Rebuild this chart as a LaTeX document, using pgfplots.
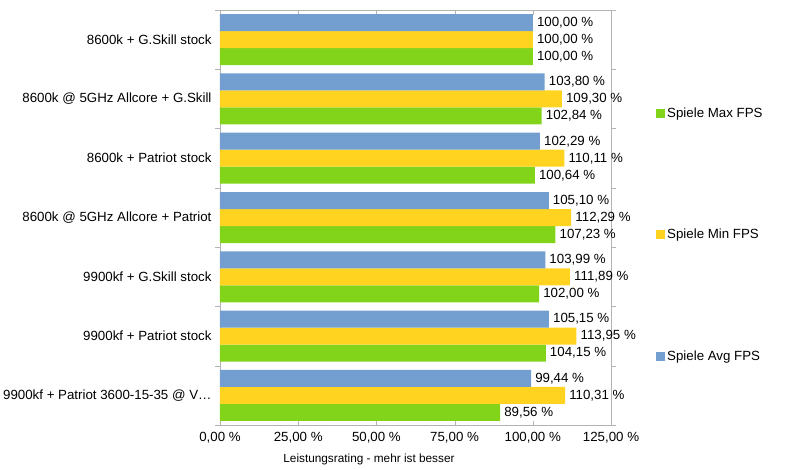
\documentclass[border=0pt]{standalone}
\usepackage{pgfplots}
\pgfplotsset{compat=1.18}
\usepackage{fontspec}
\setmainfont{Liberation Sans}
\definecolor{cavg}{HTML}{729FCF}
\definecolor{cmin}{HTML}{FFD320}
\definecolor{cmax}{HTML}{81D41A}
\definecolor{axisgray}{HTML}{B3B3B3}
\begin{document}
\begin{tikzpicture}
\useasboundingbox (0,0) rectangle (795pt,469pt);
\begin{axis}[
  at={(220pt,44pt)}, anchor=south west,
  scale only axis, width=391pt, height=415pt,
  font=\fontsize{13.3}{16}\selectfont,
  /pgf/number format/assume math mode=true,
  xbar=0pt, bar width=17pt,
  xmin=0, xmax=125, ymin=-0.5, ymax=6.5,
  enlargelimits=false,
  axis line style={draw=axisgray},
  tick align=inside, major tick length=4.5pt,
  xtick={0,25,50,75,100,125},
  xtick style={draw=axisgray},
  scaled x ticks=false,
  xticklabel={\pgfmathprintnumber[fixed,fixed zerofill,precision=2,use comma]{\tick}~\%},
  xticklabel style={yshift=-3.5pt},
  ytick={0,1,2,3,4,5,6},
  ytick style={draw=none},
  yticklabels={{9900kf + Patriot 3600-15-35 @ V…},{9900kf + Patriot stock},{9900kf + G.Skill stock},{8600k @ 5GHz Allcore + Patriot},{8600k + Patriot stock},{8600k @ 5GHz Allcore + G.Skill},{8600k + G.Skill stock}},
  yticklabel style={xshift=-5pt},
  extra y ticks={-0.5,0.5,1.5,2.5,3.5,4.5,5.5,6.5},
  extra y tick labels={},
  extra y tick style={tick align=outside, major tick length=5pt, ytick style={draw=axisgray}},
  xlabel={Leistungsrating - mehr ist besser},
  xlabel style={at={(axis description cs:0.381,0)}, anchor=north, yshift=-25pt, font=\fontsize{11.8}{14}\selectfont},
  point meta=x,
  nodes near coords={\pgfmathprintnumber[fixed,fixed zerofill,precision=2,use comma]{\pgfplotspointmeta}~\%},
  nodes near coords style={anchor=west, inner sep=0pt, xshift=4pt, text=black},
  legend cell align=left,
  legend style={at={(1,1)}, anchor=north west, xshift=45pt, yshift=-96pt, draw=none, fill=none, row sep=106pt, inner sep=0pt,
    nodes={inner sep=2pt}},
  legend image code/.code={\fill[#1, draw=none] (0pt,-4.5pt) rectangle (9pt,4.5pt);},
]
\addplot[fill=cmax, draw=none] coordinates {(100,6) (102.84,5) (100.64,4) (107.23,3) (102.00,2) (104.15,1) (89.56,0)};
\addplot[fill=cmin, draw=none] coordinates {(100,6) (109.30,5) (110.11,4) (112.29,3) (111.89,2) (113.95,1) (110.31,0)};
\addplot[fill=cavg, draw=none] coordinates {(100,6) (103.80,5) (102.29,4) (105.10,3) (103.99,2) (105.15,1) (99.44,0)};
\legend{Spiele Max FPS, Spiele Min FPS, Spiele Avg FPS}
\end{axis}
\end{tikzpicture}
\end{document}
